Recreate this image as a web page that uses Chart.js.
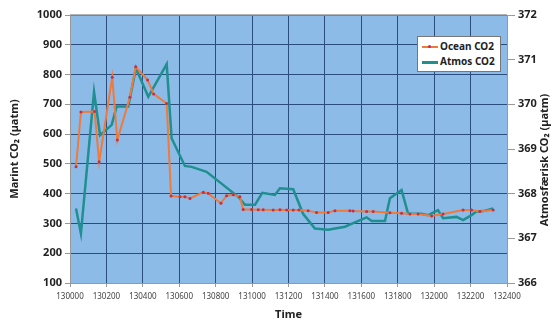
<!DOCTYPE html>
<html>
<head>
<meta charset="utf-8">
<script src="https://cdn.jsdelivr.net/npm/chart.js@4/dist/chart.umd.min.js"></script>
<style>
  html, body { margin: 0; padding: 0; background: #fff; }
  #wrap { position: relative; width: 556px; height: 325px; }
  #legend {
    position: absolute; left: 417px; top: 36px; width: 78px;
    background: #fff; border: 1px solid #777;
    font: bold 10px "Noto Sans", sans-serif; color: #222;
    padding: 2px 0 2px 4px;
  }
  #legend div { height: 15px; line-height: 15px; white-space: nowrap; }
  #legend span.sw { display: inline-block; width: 16px; height: 2px; vertical-align: middle; margin-right: 2px; position: relative; }
  #legend span.dot { position: absolute; left: 6px; top: -1px; width: 3px; height: 3px; background: #c0304a; border-radius: 2px; }
</style>
</head>
<body>
<div id="wrap">
  <canvas id="chart" width="556" height="325"></canvas>
  <div id="legend">
    <div><span class="sw" style="background:#f07a3a"><span class="dot"></span></span>Ocean CO2</div>
    <div><span class="sw" style="background:#1f8f8f;height:3px"></span>Atmos CO2</div>
  </div>
</div>
<script>
// Ocean CO2 (left axis, µatm)
const oceanTimes = [130033, 130060, 130135, 130160, 130232, 130260, 130329, 130361, 130426, 130459, 130531,
  130555, 130604, 130631, 130659, 130732, 130759, 130829, 130860, 130897, 130933, 130951,
  130997, 131034, 131061, 131116, 131153, 131190, 131226, 131257,
  131308, 131354, 131418, 131455, 131537, 131555, 131629, 131665, 131757, 131821, 131867,
  131912, 131986, 132049, 132159, 132205, 132251, 132324];
const oceanValues = [490, 674, 676, 507, 791, 580, 724, 826, 782, 735, 703,
  392, 390, 390, 384, 405, 401, 368, 393, 396, 390, 347,
  347, 346, 346, 345, 346, 345, 345, 345,
  343, 337, 337, 343, 343, 342, 340, 340, 336, 334, 332,
  332, 325, 332, 345, 345, 340, 345];

// Atmos CO2 (right axis, µatm)
const atmosTimes = [130033, 130060, 130132, 130165, 130229, 130256, 130320, 130362, 130430, 130531,
  130558, 130631, 130668, 130750, 130924, 130961, 131016, 131056, 131125, 131153, 131226,
  131280, 131345, 131418, 131510, 131555, 131629, 131657, 131730, 131757, 131821, 131857,
  131930, 131967, 132021, 132049, 132123, 132159, 132205, 132232, 132270, 132324];
const atmosValues = [367.67, 367.11, 370.28, 369.31, 369.54, 369.95, 369.95, 370.81, 370.17, 370.90,
  369.24, 368.62, 368.60, 368.49, 367.93, 367.75, 367.75, 368.02, 367.97, 368.12, 368.10,
  367.55, 367.22, 367.19, 367.26, 367.34, 367.47, 367.39, 367.39, 367.90, 368.08, 367.55,
  367.55, 367.52, 367.63, 367.45, 367.48, 367.41, 367.52, 367.60, 367.61, 367.67];

const FONT = '"Noto Sans", sans-serif';
const plain = v => String(v);

const plotBg = {
  id: 'plotBg',
  beforeDraw(chart) {
    const { ctx, chartArea: a } = chart;
    ctx.save();
    ctx.fillStyle = '#8dbbe8';
    ctx.fillRect(a.left, a.top, a.right - a.left, a.bottom - a.top);
    ctx.restore();
  },
  afterDraw(chart) {
    const { ctx, chartArea: a } = chart;
    ctx.save();
    ctx.strokeStyle = '#999';
    ctx.lineWidth = 1.5;
    ctx.beginPath();
    ctx.moveTo(a.left, a.top);
    ctx.lineTo(a.right, a.top);
    ctx.stroke();
    ctx.translate(545, 160);
    ctx.rotate(-Math.PI / 2);
    ctx.font = 'bold 11px ' + FONT;
    ctx.fillStyle = '#222';
    ctx.textAlign = 'center';
    ctx.textBaseline = 'middle';
    ctx.fillText('Atmosfærisk CO₂ (µatm)', 0, 0);
    ctx.restore();
  }
};

new Chart(document.getElementById('chart'), {
  type: 'line',
  data: {
    datasets: [
      {
        label: 'Ocean CO2',
        data: oceanTimes.map((t, i) => ({ x: t, y: oceanValues[i] })),
        yAxisID: 'y',
        borderColor: '#f07a3a',
        borderWidth: 2,
        pointRadius: 1.5,
        pointBackgroundColor: '#c0304a',
        pointBorderWidth: 0,
        tension: 0
      },
      {
        label: 'Atmos CO2',
        data: atmosTimes.map((t, i) => ({ x: t, y: atmosValues[i] })),
        yAxisID: 'y2',
        borderColor: '#1f8f8f',
        borderWidth: 2.5,
        pointRadius: 0,
        tension: 0
      }
    ]
  },
  options: {
    responsive: false,
    animation: false,
    layout: { padding: { top: 15, left: 8, right: 0, bottom: 0 } },
    plugins: { legend: { display: false }, tooltip: { enabled: false } },
    scales: {
      x: {
        type: 'linear',
        min: 130000, max: 132400,
        ticks: { stepSize: 200, callback: plain, color: '#444', font: { family: FONT, size: 8 }, maxRotation: 0, padding: 5 },
        grid: { color: '#2b4d7e', tickColor: '#999', tickLength: 4 },
        border: { color: '#999' },
        title: { display: true, text: 'Time', color: '#222', font: { family: FONT, size: 11, weight: 'bold' }, padding: { top: 12 } },
        afterFit(s) { s.height = 42; }
      },
      y: {
        position: 'left',
        min: 100, max: 1000,
        ticks: { stepSize: 100, callback: plain, color: '#222', font: { family: FONT, size: 11, weight: 'bold' }, padding: 3 },
        grid: { color: '#2b4d7e', tickColor: '#999', tickLength: 5 },
        border: { color: '#999' },
        title: { display: true, text: 'Marint CO₂ (µatm)', color: '#222', font: { family: FONT, size: 11, weight: 'bold' }, padding: 0 },
        afterFit(s) { s.width = 62; }
      },
      y2: {
        position: 'right',
        min: 366, max: 372,
        ticks: { stepSize: 1, callback: plain, color: '#222', font: { family: FONT, size: 11, weight: 'bold' }, padding: 3 },
        grid: { drawOnChartArea: false, tickColor: '#999', tickLength: 8 },
        border: { color: '#999' },
        afterFit(s) { s.width = 49; }
      }
    }
  },
  plugins: [plotBg]
});
</script>
</body>
</html>
